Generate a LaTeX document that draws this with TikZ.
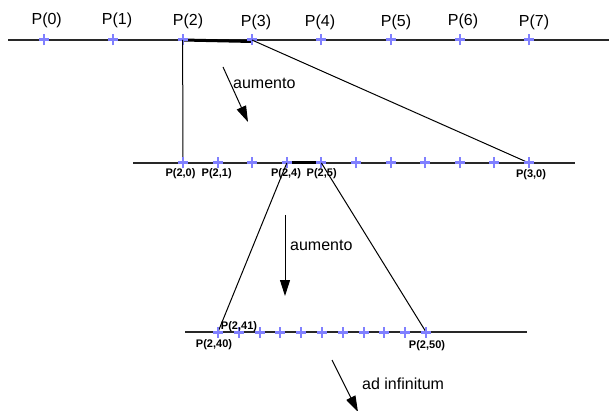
\documentclass[tikz,border=0pt]{standalone}
\usepackage{fontspec}
\setmainfont{Liberation Sans}
\usetikzlibrary{arrows.meta}
\definecolor{crossblue}{RGB}{128,128,255}
\definecolor{lineg}{RGB}{40,40,40}
\tikzset{
  axisline/.style={draw=lineg, line width=1.2pt},
  crossmark/.style={draw=crossblue, line width=2pt},
  stepline/.style={draw=black, line width=1pt},
  zoomarrow/.style={draw=black, line width=1pt, -{Triangle[length=16pt,width=10pt]}},
  toplabel/.style={font=\fontsize{16}{18}\selectfont},
  sublabel/.style={font=\bfseries\fontsize{11}{13}\selectfont, inner sep=0pt}
}
\newcommand\crossat[1]{%
  \draw[crossmark, line width=3pt] ([xshift=-5pt]#1) -- ([xshift=5pt]#1);
  \draw[crossmark] ([yshift=-5.5pt]#1) -- ([yshift=5.5pt]#1);}
\begin{document}
\begin{tikzpicture}[x=1pt, y=-1pt]
\useasboundingbox (0,0) rectangle (609,411);
% first row
\draw[axisline] (8,40) -- (609,40);
\foreach \i/\lx/\ly in {0/46.7/20.5, 1/117/20.5, 2/188/21, 3/256/22.5, 4/320/22.5, 5/396/22.5, 6/463/21, 7/534/22.5} {
  \coordinate (p\i) at ({44+69.3*\i},40);
  \node[toplabel] (lab\i) at (\lx,\ly) {P(\i)};
}
\draw[line width=3pt] (p2) -- ([yshift=-1.5pt]p3);
\foreach \i in {0,...,7} {\crossat{p\i}}
% second row
\draw[axisline] (133,163) -- (575,163);
\foreach \j in {0,...,10} {
  \coordinate (q\j) at ({183+34.6*\j},163);
}
\draw[line width=3pt] (q3) -- (q4);
\draw[stepline] (p2) -- (q0);
\draw[stepline] (p3) -- (q10);
\foreach \j in {0,...,10} {\crossat{q\j}}
\node[sublabel] (lq0) at (180.5,174) {P(2,0)};
\node[sublabel] (lq1) at (216.7,174) {P(2,1)};
\node[sublabel] (lq4) at (286,174) {P(2,4)};
\node[sublabel] (lq5) at (321.7,174) {P(2,5)};
\node[sublabel] (lq10) at (531,175) {P(3,0)};
% third row
\draw[axisline] (185,332) -- (527,332);
\foreach \k in {0,...,10} {
  \coordinate (r\k) at ({218+20.8*\k},332);
}
\draw[stepline] (q3) -- (r0);
\draw[stepline] (q4) -- (r10);
\foreach \k in {0,...,10} {\crossat{r\k}}
\node[sublabel] (lr1) at (239,327) {P(2,41)};
\node[sublabel] (lr0) at (214,345) {P(2,40)};
\node[sublabel] (lr10) at (427,346) {P(2,50)};
% arrows
\coordinate (a1s) at (223,67);
\coordinate (a1e) at (248,122);
\draw[zoomarrow] (a1s) -- (a1e);
\node[toplabel, anchor=west, inner sep=0pt] (au1) at (233,83) {aumento};
\coordinate (a2s) at (285,215);
\coordinate (a2e) at (285,296);
\draw[zoomarrow] (a2s) -- (a2e);
\node[toplabel, anchor=west, inner sep=0pt] (au2) at (290,245) {aumento};
\coordinate (a3s) at (332,360);
\coordinate (a3e) at (358,412);
\draw[zoomarrow] (a3s) -- (a3e);
\node[toplabel, anchor=west, inner sep=0pt] (adinf) at (362,384) {ad infinitum};
\end{tikzpicture}
\end{document}
